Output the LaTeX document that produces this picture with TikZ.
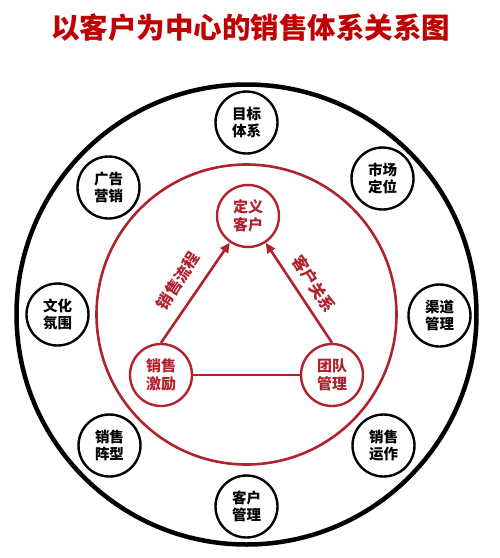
\documentclass[tikz,border=0pt]{standalone}
\usepackage{fontspec}
\newfontfamily\cjk{Noto Sans CJK SC}
\usetikzlibrary{arrows.meta,calc}
\definecolor{titlered}{HTML}{C00000}
\definecolor{ringred}{HTML}{B0222E}
\begin{document}
\begin{tikzpicture}[x=1pt,y=-1pt,
  outer/.style={circle,draw=black,line width=2.4pt,minimum size=62pt,inner sep=0pt,
    font=\cjk\bfseries\fontsize{14.5}{17}\selectfont,align=center,text=black},
  inner/.style={circle,draw=ringred,line width=2.4pt,minimum size=62pt,inner sep=0pt,
    font=\cjk\bfseries\fontsize{15}{18}\selectfont,align=center,text=ringred},
  edge/.style={draw=ringred,line width=2.6pt},
  arr/.style={edge,-{Triangle[length=10pt,width=9pt]}},
  elabel/.style={font=\cjk\bfseries\fontsize{16}{18}\selectfont,text=ringred}]
\useasboundingbox (0,0) rectangle (500,558);
\fill[white] (0,0) rectangle (500,558);
\node[font=\cjk\bfseries\fontsize{28.5}{31}\selectfont,text=titlered] (title) at (251,28) {以客户为中心的销售体系关系图};
\coordinate (c) at (246.5,314.5);
\draw[line width=4.5pt] (c) circle[radius=230];
\draw[ringred,line width=2.6pt] (c) circle[radius=150];
\node[outer] (n1) at ($(c)+(0,-192)$) {目标\\体系};
\node[outer] (n2) at ($(c)+(136,-136)$) {市场\\定位};
\node[outer] (n3) at ($(c)+(193,1)$) {渠道\\管理};
\node[outer] (n4) at ($(c)+(137,131)$) {销售\\运作};
\node[outer] (n5) at ($(c)+(0,192)$) {客户\\管理};
\node[outer] (n6) at ($(c)+(-137,131)$) {销售\\阵型};
\node[outer] (n7) at ($(c)+(-189,0)$) {文化\\氛围};
\node[outer] (n8) at ($(c)+(-138,-127)$) {广告\\营销};
\node[inner] (top) at (248,216) {定义\\客户};
\node[inner] (left) at (161,375) {销售\\激励};
\node[inner] (right) at (332,375) {团队\\管理};
\draw[arr] (left.north) -- (top);
\draw[arr] (right.north) -- (top);
\draw[edge] (left) -- (right);
\node[elabel,rotate=57] (l1) at (178,281) {销售流程};
\node[elabel,rotate=-57] (l2) at (314,284) {客户关系};
\end{tikzpicture}
\end{document}
